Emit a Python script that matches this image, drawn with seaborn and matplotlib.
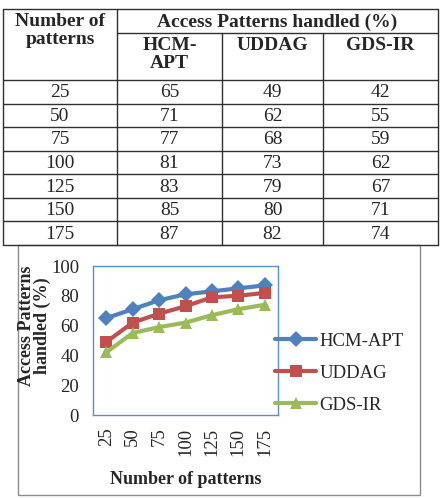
import matplotlib
matplotlib.use("Agg")
import matplotlib.pyplot as plt
import pandas as pd
import seaborn as sns

# Table / chart data
patterns = ["25", "50", "75", "100", "125", "150", "175"]
hcm_apt = [65, 71, 77, 81, 83, 85, 87]
uddag = [49, 62, 68, 73, 79, 80, 82]
gds_ir = [42, 55, 59, 62, 67, 71, 74]
methods = ["HCM-APT", "UDDAG", "GDS-IR"]
header_col = ["Number of\npatterns"]
header_group = "Access Patterns handled (%)"
header_sub = ["HCM-\nAPT", "UDDAG", "GDS-IR"]

colors = {"HCM-APT": "#4F81BD", "UDDAG": "#C0504D", "GDS-IR": "#9BBB59"}
markers = {"HCM-APT": "D", "UDDAG": "s", "GDS-IR": "^"}

df = pd.DataFrame({
    "patterns": patterns * 3,
    "value": hcm_apt + uddag + gds_ir,
    "method": [m for m in methods for _ in patterns],
})

sns.set_style("white")
plt.rcParams["font.family"] = ["Liberation Serif", "DejaVu Serif"]

fig = plt.figure(figsize=(4.4, 4.98), dpi=100)

# background axes in pixel coordinates for the table and chart frame
bg = fig.add_axes([0, 0, 1, 1])
bg.set_xlim(0, 440)
bg.set_ylim(498, 0)
bg.axis("off")

col_x = [3, 117, 222, 323, 438]
top, mid, head_bot = 9, 33, 80
row_h = (245 - head_bot) / len(patterns)
bottom = head_bot + row_h * len(patterns)
lc = "#303030"
lw = 1.0

bg.plot([col_x[0], col_x[-1]], [top, top], color=lc, lw=lw)
bg.plot([col_x[1], col_x[-1]], [mid, mid], color=lc, lw=lw)
for i in range(len(patterns) + 1):
    y = head_bot + row_h * i
    bg.plot([col_x[0], col_x[-1]], [y, y], color=lc, lw=lw)
for i, x in enumerate(col_x):
    y0 = mid if i in (2, 3) else top
    bg.plot([x, x], [y0, bottom], color=lc, lw=lw)

bg.text((col_x[0] + col_x[1]) / 2, top + 4, header_col[0], ha="center", va="top",
        fontsize=14, fontweight="bold", linespacing=1.1)
bg.text((col_x[1] + col_x[-1]) / 2, (top + mid) / 2 + 1, header_group, ha="center",
        va="center", fontsize=14, fontweight="bold")
for j, h in enumerate(header_sub):
    bg.text((col_x[j + 1] + col_x[j + 2]) / 2, mid + 4, h, ha="center", va="top",
            fontsize=14, fontweight="bold", linespacing=1.1)

cols = [patterns, hcm_apt, uddag, gds_ir]
for i in range(len(patterns)):
    yc = head_bot + row_h * (i + 0.5) + 1
    for j, c in enumerate(cols):
        bg.text((col_x[j] + col_x[j + 1]) / 2, yc, str(c[i]), ha="center",
                va="center", fontsize=14)

# chart frame
bg.add_patch(plt.Rectangle((18, 245), 402, 250, fill=False, ec="#8c8c8c", lw=1))

# line chart
ax = fig.add_axes([93 / 440, 1 - 415 / 498, 185 / 440, 149 / 498])
sns.lineplot(data=df, x="patterns", y="value", hue="method", style="method",
             palette=colors, markers=markers, dashes=False, sort=False,
             linewidth=3, markersize=8, markeredgewidth=0, ax=ax)
ax.set_xlim(-0.5, len(patterns) - 0.5)
ax.set_ylim(0, 100)
ax.set_yticks(range(0, 101, 20))
ax.tick_params(axis="x", labelrotation=90, length=0, labelsize=13.5, pad=9)
ax.tick_params(axis="y", length=0, labelsize=13.5, pad=10)
for s in ax.spines.values():
    s.set_color("#5B8FCB")
    s.set_linewidth(1)
ax.set_xlabel("Number of patterns", fontsize=13, fontweight="bold", labelpad=11)
ax.set_ylabel("Access Patterns\nhandled (%)", fontsize=13, fontweight="bold",
              linespacing=0.95)
ax.yaxis.set_label_coords(-0.225, 0.6)

handles, labels = ax.get_legend_handles_labels()
ax.legend(handles, labels, loc="center left", bbox_to_anchor=(0.985, 0.28),
          frameon=False, fontsize=13.5, handlelength=2.2, handletextpad=0.15,
          labelspacing=0.8, borderaxespad=0, borderpad=0)

fig.savefig("out.png", dpi=100)
